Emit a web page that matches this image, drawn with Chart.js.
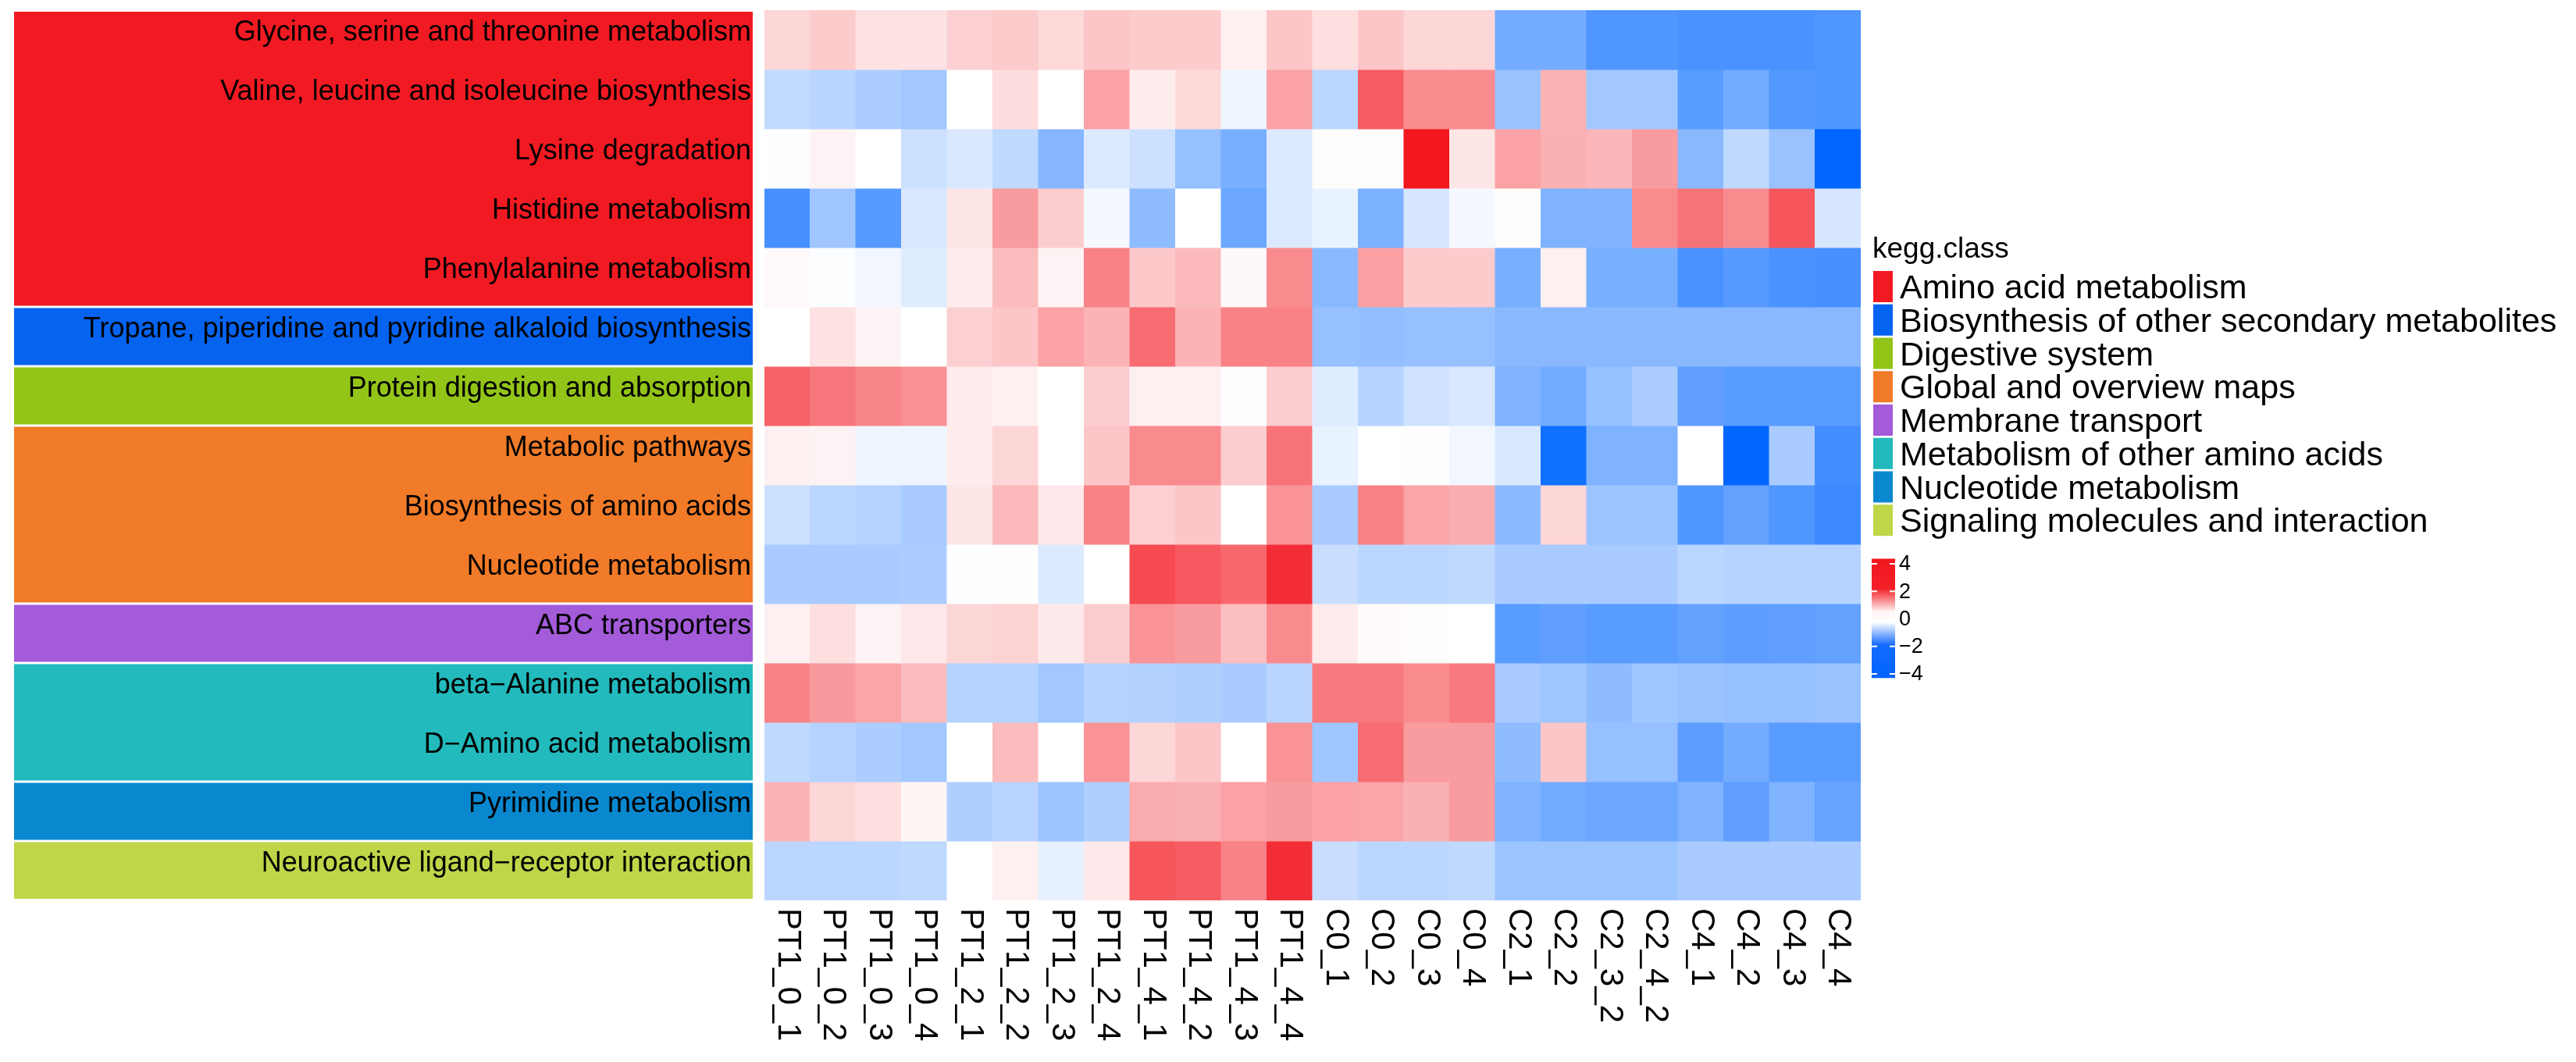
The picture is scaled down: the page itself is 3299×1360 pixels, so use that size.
<!DOCTYPE html>
<html>
<head>
<meta charset="utf-8">
<title>KEGG pathway heatmap</title>
<script src="https://cdn.jsdelivr.net/npm/chart.js@4.4.1/dist/chart.umd.min.js"></script>
<style>
  body { margin: 0; background: #fff; }
  canvas { display: block; }
</style>
</head>
<body>
<canvas id="myChart" width="3299" height="1360"></canvas>
<script>
// columns (samples)
const sampleLabels = [
    'PT1_0_1', 'PT1_0_2', 'PT1_0_3', 'PT1_0_4',
    'PT1_2_1', 'PT1_2_2', 'PT1_2_3', 'PT1_2_4',
    'PT1_4_1', 'PT1_4_2', 'PT1_4_3', 'PT1_4_4',
    'C0_1', 'C0_2', 'C0_3', 'C0_4',
    'C2_1', 'C2_2', 'C2_3_2', 'C2_4_2',
    'C4_1', 'C4_2', 'C4_3', 'C4_4'
];

// rows (pathways), top to bottom
const pathwayLabels = [
    'Glycine, serine and threonine metabolism',
    'Valine, leucine and isoleucine biosynthesis',
    'Lysine degradation',
    'Histidine metabolism',
    'Phenylalanine metabolism',
    'Tropane, piperidine and pyridine alkaloid biosynthesis',
    'Protein digestion and absorption',
    'Metabolic pathways',
    'Biosynthesis of amino acids',
    'Nucleotide metabolism',
    'ABC transporters',
    'beta\u2212Alanine metabolism',
    'D\u2212Amino acid metabolism',
    'Pyrimidine metabolism',
    'Neuroactive ligand\u2212receptor interaction'
];

const classNames = [
    'Amino acid metabolism',
    'Biosynthesis of other secondary metabolites',
    'Digestive system',
    'Global and overview maps',
    'Membrane transport',
    'Metabolism of other amino acids',
    'Nucleotide metabolism',
    'Signaling molecules and interaction'
];
const classColors = ['#F21A22', '#0563F0', '#93C518', '#F17B28', '#A35BD9', '#22BABD', '#0A88CF', '#C0D548'];

// kegg.class of each row (index into classNames)
const pathwayClass = [0, 0, 0, 0, 0, 1, 2, 3, 3, 3, 4, 5, 5, 6, 7];

// z-scores, one array per row, in sample order
const cellValues = [
    [0.7, 0.9, 0.5, 0.5, 0.8, 0.9, 0.65, 1.0, 0.9, 0.9, 0.25, 1.0, 0.55, 1.0, 0.7, 0.7, -2.2, -2.2, -2.75, -2.75, -2.85, -2.85, -2.85, -2.75],
    [-0.95, -1.1, -1.3, -1.45, 0, 0.6, 0, 1.6, 0.35, 0.65, -0.25, 1.6, -1.05, 2.8, 2.0, 2.0, -1.6, 1.3, -1.45, -1.45, -2.6, -2.2, -2.7, -2.75],
    [0.02, 0.2, 0, -0.8, -0.6, -1.0, -1.9, -0.55, -0.8, -1.65, -2.1, -0.55, 0.05, 0.05, 4.0, 0.45, 1.6, 1.35, 1.25, 1.7, -1.85, -1.0, -1.6, -4.0],
    [-2.9, -1.5, -2.65, -0.6, 0.45, 1.7, 0.85, -0.15, -1.75, 0, -2.3, -0.55, -0.35, -2.05, -0.65, -0.15, 0.05, -2.0, -2.0, 2.0, 2.4, 2.0, 2.9, -0.65],
    [0.1, -0.05, -0.2, -0.5, 0.35, 1.15, 0.2, 2.15, 0.95, 1.2, 0.12, 2.0, -1.85, 1.65, 0.9, 0.9, -2.1, 0.25, -2.1, -2.1, -2.85, -2.65, -2.85, -2.9],
    [0, 0.5, 0.2, 0, 0.8, 1.0, 1.6, 1.3, 2.5, 1.3, 2.15, 2.15, -1.65, -1.7, -1.65, -1.65, -1.85, -1.85, -1.85, -1.85, -1.85, -1.85, -1.85, -1.85],
    [2.7, 2.35, 2.1, 1.9, 0.35, 0.25, 0, 0.85, 0.25, 0.25, -0.05, 0.85, -0.5, -1.15, -0.75, -0.6, -2.0, -2.2, -1.65, -1.3, -2.5, -2.6, -2.6, -2.6],
    [0.25, 0.2, -0.25, -0.25, 0.35, 0.7, 0, 1.0, 2.0, 2.0, 0.85, 2.4, -0.35, 0, -0.02, -0.2, -0.6, -3.75, -2.0, -2.0, 0, -4.0, -1.35, -2.95],
    [-0.8, -1.05, -1.15, -1.35, 0.45, 1.2, 0.4, 2.15, 0.8, 1.0, 0, 1.85, -1.35, 2.15, 1.55, 1.4, -1.8, 0.7, -1.55, -1.55, -2.75, -2.45, -2.75, -3.05],
    [-1.35, -1.35, -1.35, -1.3, -0.02, -0.02, -0.55, 0, 3.1, 2.85, 2.6, 3.6, -0.85, -1.05, -1.05, -1.0, -1.35, -1.35, -1.35, -1.35, -1.05, -1.15, -1.15, -1.15],
    [0.25, 0.55, 0.2, 0.4, 0.7, 0.78, 0.38, 0.85, 1.85, 1.7, 1.1, 2.0, 0.35, 0.08, 0.05, 0, -2.6, -2.5, -2.6, -2.6, -2.45, -2.55, -2.5, -2.45],
    [2.15, 1.75, 1.55, 1.15, -1.15, -1.15, -1.45, -1.15, -1.2, -1.25, -1.35, -1.1, 2.3, 2.3, 2.0, 2.3, -1.35, -1.5, -1.75, -1.5, -1.6, -1.65, -1.65, -1.6],
    [-1.0, -1.15, -1.3, -1.45, 0, 1.15, 0, 1.85, 0.7, 1.0, 0, 1.85, -1.5, 2.5, 1.7, 1.7, -1.75, 1.0, -1.65, -1.65, -2.55, -2.2, -2.6, -2.6],
    [1.3, 0.7, 0.55, 0.18, -1.25, -1.1, -1.55, -1.25, 1.45, 1.35, 1.6, 1.7, 1.6, 1.55, 1.35, 1.7, -2.0, -2.2, -2.3, -2.3, -2.0, -2.5, -2.0, -2.4],
    [-1.05, -1.05, -1.05, -1.0, 0, 0.25, -0.4, 0.4, 2.9, 2.8, 2.15, 3.6, -0.85, -1.05, -1.05, -1.0, -1.55, -1.55, -1.55, -1.55, -1.35, -1.35, -1.35, -1.35]
];

const scaleTicks = [4, 2, 0, -2, -4];

const FONT = '"Liberation Sans", Arial, Helvetica, sans-serif';
const RED = [242, 22, 30];
const BLUE = [0, 102, 255];

function cellColor(v) {
    const t = Math.min(Math.abs(v) / 4, 1);
    const end = v >= 0 ? RED : BLUE;
    const c = end.map(e => Math.round(255 + (e - 255) * t));
    return 'rgb(' + c.join(',') + ')';
}

// row annotation, axis labels, legend and colour key
const decorations = {
    id: 'decorations',
    afterDraw(chart) {
        const ctx = chart.ctx;
        const xs = chart.scales.x;
        const ys = chart.scales.y;
        const area = chart.chartArea;
        const n = pathwayLabels.length;

        // kegg.class bands
        let start = 0;
        for (let i = 1; i <= n; i++) {
            if (i === n || pathwayClass[i] !== pathwayClass[start]) {
                const top = ys.getPixelForValue(start) + (start === 0 ? 2 : 1.5);
                const bottom = ys.getPixelForValue(i) - (i === n ? 2 : 1.5);
                ctx.fillStyle = classColors[pathwayClass[start]];
                ctx.fillRect(18, top, 964 - 18, bottom - top);
                start = i;
            }
        }

        // row names
        ctx.fillStyle = '#000';
        ctx.font = '36px ' + FONT;
        ctx.textAlign = 'right';
        ctx.textBaseline = 'alphabetic';
        pathwayLabels.forEach((name, i) => {
            ctx.fillText(name, 962, ys.getPixelForValue(i + 0.5) + 1);
        });

        // column names, rotated
        ctx.font = '42px ' + FONT;
        ctx.textAlign = 'left';
        ctx.textBaseline = 'middle';
        sampleLabels.forEach((s, j) => {
            ctx.save();
            ctx.translate(xs.getPixelForValue(j), area.bottom + 10);
            ctx.rotate(Math.PI / 2);
            ctx.fillText(s, 0, 0);
            ctx.restore();
        });

        // legend
        ctx.textBaseline = 'alphabetic';
        ctx.font = '37px ' + FONT;
        ctx.fillText('kegg.class', 2398, 330);
        ctx.font = '43px ' + FONT;
        classNames.forEach((name, k) => {
            const top = 347 + k * 42.75;
            ctx.fillStyle = classColors[k];
            ctx.fillRect(2399, top, 25, 40);
            ctx.fillStyle = '#000';
            ctx.fillText(name, 2433, top + 35);
        });

        // colour key
        const vToY = v => 792.5 - v * 17.625;
        const cbTop = vToY(4.37), cbBottom = vToY(-4.3);
        const grad = ctx.createLinearGradient(0, cbTop, 0, cbBottom);
        const stop = (v, col) => grad.addColorStop((vToY(v) - cbTop) / (cbBottom - cbTop), col);
        stop(4.37, 'rgb(242,22,30)');
        stop(2.2, 'rgb(243,32,40)');
        stop(0.5, 'rgb(255,246,246)');
        stop(-0.25, 'rgb(255,255,255)');
        stop(-1.9, 'rgb(20,108,255)');
        stop(-4.3, 'rgb(0,98,255)');
        ctx.fillStyle = grad;
        ctx.fillRect(2397, cbTop, 30, cbBottom - cbTop);
        ctx.strokeStyle = '#fff';
        ctx.lineWidth = 2;
        ctx.font = '27px ' + FONT;
        ctx.textBaseline = 'middle';
        scaleTicks.forEach(v => {
            const yy = vToY(v);
            if (v !== 0) {
                ctx.beginPath();
                ctx.moveTo(2397, yy); ctx.lineTo(2404, yy);
                ctx.moveTo(2420, yy); ctx.lineTo(2427, yy);
                ctx.stroke();
            }
            ctx.fillStyle = '#000';
            ctx.fillText(v < 0 ? '\u2212' + Math.abs(v) : String(v), 2432, yy + 1);
        });
    }
};

const ctx = document.getElementById('myChart');

new Chart(ctx, {
    type: 'bar',
    data: {
        labels: sampleLabels,
        datasets: pathwayLabels.map((name, i) => ({
            label: name,
            data: sampleLabels.map(() => 1),
            backgroundColor: cellValues[i].map(cellColor),
            borderWidth: 0,
            barPercentage: 1,
            categoryPercentage: 1,
            inflateAmount: 0.5
        }))
    },
    options: {
        responsive: false,
        animation: false,
        events: [],
        layout: { padding: { left: 979, right: 916, top: 13, bottom: 207 } },
        plugins: {
            legend: { display: false },
            tooltip: { enabled: false }
        },
        scales: {
            x: { display: false, stacked: true },
            y: { display: false, stacked: true, min: 0, max: pathwayLabels.length, reverse: true }
        }
    },
    plugins: [decorations]
});
</script>
</body>
</html>
